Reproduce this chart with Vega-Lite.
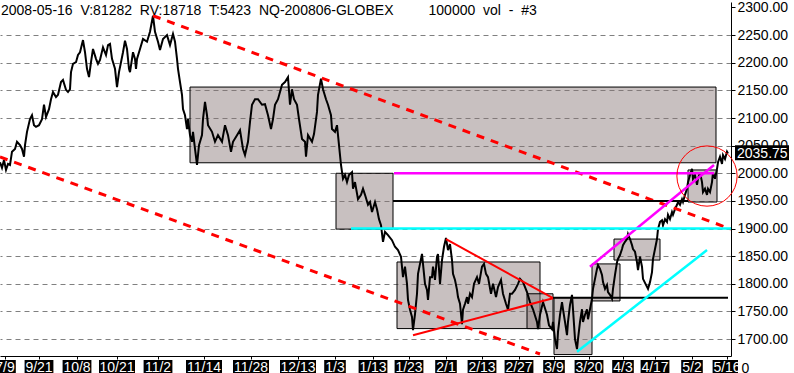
{
"$schema": "https://vega.github.io/schema/vega-lite/v6.json",
"padding": 0,
"background": "white",
"spacing": 0,
"config": {"view": {"stroke": null}, "font": "Liberation Sans", "text": {"font": "Liberation Sans"}},
"resolve": {"scale": {"x": "independent", "y": "independent"}},
"datasets": {
"price": [{"i":0,"p":2020},{"i":2,"p":2010},{"i":4,"p":2024},{"i":6,"p":2006},{"i":8,"p":2017},{"i":10,"p":2015},{"i":12,"p":2039},{"i":15,"p":2044},{"i":17,"p":2057},{"i":20,"p":2051},{"i":22,"p":2044},{"i":24,"p":2030},{"i":25,"p":2051},{"i":27,"p":2075},{"i":30,"p":2098},{"i":32,"p":2105},{"i":34,"p":2087},{"i":36,"p":2084},{"i":39,"p":2087},{"i":42,"p":2098},{"i":44,"p":2124},{"i":46,"p":2102},{"i":49,"p":2116},{"i":51,"p":2134},{"i":53,"p":2147},{"i":56,"p":2138},{"i":58,"p":2142},{"i":61,"p":2165},{"i":63,"p":2169},{"i":66,"p":2151},{"i":68,"p":2147},{"i":70,"p":2152},{"i":71,"p":2183},{"i":73,"p":2198},{"i":76,"p":2201},{"i":78,"p":2214},{"i":80,"p":2219},{"i":83,"p":2241},{"i":85,"p":2219},{"i":87,"p":2189},{"i":89,"p":2174},{"i":91,"p":2201},{"i":93,"p":2225},{"i":96,"p":2207},{"i":98,"p":2198},{"i":100,"p":2205},{"i":103,"p":2228},{"i":106,"p":2214},{"i":108,"p":2232},{"i":110,"p":2234},{"i":112,"p":2207},{"i":115,"p":2189},{"i":117,"p":2156},{"i":119,"p":2183},{"i":121,"p":2201},{"i":123,"p":2219},{"i":125,"p":2240},{"i":127,"p":2225},{"i":129,"p":2189},{"i":130,"p":2183},{"i":133,"p":2219},{"i":135,"p":2207},{"i":136,"p":2189},{"i":137,"p":2207},{"i":140,"p":2225},{"i":143,"p":2243},{"i":147,"p":2238},{"i":150,"p":2256},{"i":153,"p":2285},{"i":155,"p":2256},{"i":158,"p":2238},{"i":160,"p":2223},{"i":163,"p":2243},{"i":167,"p":2250},{"i":170,"p":2232},{"i":173,"p":2252},{"i":175,"p":2238},{"i":177,"p":2207},{"i":178,"p":2189},{"i":180,"p":2165},{"i":182,"p":2142},{"i":183,"p":2116},{"i":185,"p":2105},{"i":187,"p":2080},{"i":188,"p":2098},{"i":190,"p":2069},{"i":192,"p":2057},{"i":193,"p":2075},{"i":195,"p":2044},{"i":197,"p":2015},{"i":199,"p":2051},{"i":202,"p":2069},{"i":203,"p":2098},{"i":205,"p":2129},{"i":207,"p":2105},{"i":208,"p":2087},{"i":212,"p":2075},{"i":215,"p":2057},{"i":218,"p":2069},{"i":222,"p":2057},{"i":225,"p":2087},{"i":228,"p":2069},{"i":231,"p":2039},{"i":233,"p":2057},{"i":237,"p":2069},{"i":240,"p":2078},{"i":243,"p":2044},{"i":245,"p":2033},{"i":248,"p":2057},{"i":250,"p":2093},{"i":252,"p":2124},{"i":255,"p":2134},{"i":258,"p":2134},{"i":262,"p":2124},{"i":265,"p":2125},{"i":268,"p":2105},{"i":271,"p":2080},{"i":273,"p":2098},{"i":275,"p":2124},{"i":278,"p":2134},{"i":282,"p":2160},{"i":285,"p":2165},{"i":288,"p":2174},{"i":290,"p":2124},{"i":292,"p":2152},{"i":294,"p":2134},{"i":297,"p":2124},{"i":299,"p":2098},{"i":302,"p":2062},{"i":305,"p":2057},{"i":306,"p":2030},{"i":308,"p":2069},{"i":312,"p":2057},{"i":314,"p":2071},{"i":317,"p":2111},{"i":318,"p":2142},{"i":321,"p":2171},{"i":323,"p":2152},{"i":326,"p":2134},{"i":328,"p":2124},{"i":331,"p":2105},{"i":332,"p":2080},{"i":335,"p":2075},{"i":337,"p":2087},{"i":338,"p":2069},{"i":340,"p":2033},{"i":341,"p":2015},{"i":343,"p":1990},{"i":345,"p":1997},{"i":347,"p":1984},{"i":349,"p":1997},{"i":352,"p":2002},{"i":353,"p":1972},{"i":355,"p":1984},{"i":358,"p":1953},{"i":361,"p":1961},{"i":363,"p":1972},{"i":365,"p":1961},{"i":368,"p":1943},{"i":370,"p":1948},{"i":372,"p":1930},{"i":375,"p":1948},{"i":377,"p":1935},{"i":379,"p":1917},{"i":381,"p":1906},{"i":383,"p":1876},{"i":385,"p":1894},{"i":388,"p":1888},{"i":392,"p":1879},{"i":395,"p":1867},{"i":398,"p":1861},{"i":401,"p":1849},{"i":403,"p":1812},{"i":405,"p":1831},{"i":407,"p":1800},{"i":408,"p":1771},{"i":410,"p":1753},{"i":412,"p":1740},{"i":413,"p":1716},{"i":415,"p":1745},{"i":417,"p":1782},{"i":418,"p":1818},{"i":420,"p":1836},{"i":422,"p":1854},{"i":423,"p":1836},{"i":425,"p":1800},{"i":427,"p":1789},{"i":428,"p":1771},{"i":430,"p":1812},{"i":432,"p":1812},{"i":433,"p":1831},{"i":435,"p":1807},{"i":437,"p":1849},{"i":438,"p":1854},{"i":440,"p":1800},{"i":442,"p":1843},{"i":444,"p":1867},{"i":446,"p":1883},{"i":448,"p":1861},{"i":450,"p":1872},{"i":452,"p":1843},{"i":453,"p":1818},{"i":455,"p":1807},{"i":457,"p":1789},{"i":458,"p":1776},{"i":460,"p":1764},{"i":462,"p":1727},{"i":463,"p":1753},{"i":465,"p":1764},{"i":467,"p":1776},{"i":468,"p":1764},{"i":470,"p":1782},{"i":472,"p":1776},{"i":474,"p":1800},{"i":477,"p":1812},{"i":479,"p":1800},{"i":482,"p":1831},{"i":484,"p":1836},{"i":486,"p":1818},{"i":488,"p":1812},{"i":491,"p":1782},{"i":493,"p":1800},{"i":496,"p":1776},{"i":498,"p":1794},{"i":501,"p":1807},{"i":503,"p":1782},{"i":506,"p":1764},{"i":508,"p":1753},{"i":510,"p":1782},{"i":512,"p":1782},{"i":515,"p":1789},{"i":518,"p":1800},{"i":520,"p":1809},{"i":523,"p":1803},{"i":527,"p":1785},{"i":530,"p":1767},{"i":533,"p":1754},{"i":537,"p":1731},{"i":538,"p":1718},{"i":540,"p":1744},{"i":543,"p":1767},{"i":547,"p":1744},{"i":549,"p":1725},{"i":552,"p":1718},{"i":553,"p":1731},{"i":555,"p":1700},{"i":557,"p":1682},{"i":558,"p":1713},{"i":560,"p":1744},{"i":562,"p":1767},{"i":563,"p":1754},{"i":565,"p":1731},{"i":567,"p":1707},{"i":568,"p":1731},{"i":570,"p":1762},{"i":572,"p":1780},{"i":573,"p":1754},{"i":575,"p":1700},{"i":577,"p":1682},{"i":578,"p":1700},{"i":580,"p":1731},{"i":582,"p":1754},{"i":583,"p":1731},{"i":585,"p":1744},{"i":587,"p":1754},{"i":588,"p":1736},{"i":590,"p":1754},{"i":592,"p":1773},{"i":593,"p":1791},{"i":595,"p":1809},{"i":597,"p":1827},{"i":598,"p":1834},{"i":600,"p":1827},{"i":602,"p":1816},{"i":603,"p":1803},{"i":605,"p":1791},{"i":607,"p":1798},{"i":608,"p":1785},{"i":610,"p":1780},{"i":612,"p":1773},{"i":613,"p":1791},{"i":615,"p":1816},{"i":617,"p":1839},{"i":618,"p":1845},{"i":620,"p":1852},{"i":622,"p":1863},{"i":623,"p":1870},{"i":625,"p":1876},{"i":627,"p":1881},{"i":628,"p":1890},{"i":630,"p":1881},{"i":632,"p":1870},{"i":633,"p":1863},{"i":635,"p":1858},{"i":637,"p":1839},{"i":638,"p":1825},{"i":640,"p":1849},{"i":642,"p":1831},{"i":643,"p":1809},{"i":646,"p":1798},{"i":648,"p":1791},{"i":650,"p":1803},{"i":652,"p":1821},{"i":653,"p":1845},{"i":655,"p":1863},{"i":657,"p":1881},{"i":658,"p":1899},{"i":660,"p":1912},{"i":662,"p":1915},{"i":663,"p":1906},{"i":665,"p":1917},{"i":667,"p":1912},{"i":668,"p":1925},{"i":670,"p":1917},{"i":672,"p":1930},{"i":673,"p":1925},{"i":675,"p":1935},{"i":677,"p":1943},{"i":678,"p":1948},{"i":680,"p":1943},{"i":682,"p":1953},{"i":683,"p":1948},{"i":685,"p":1961},{"i":687,"p":1972},{"i":688,"p":1984},{"i":690,"p":1997},{"i":692,"p":2008},{"i":693,"p":1990},{"i":695,"p":1997},{"i":697,"p":1979},{"i":698,"p":1990},{"i":700,"p":2002},{"i":702,"p":1984},{"i":703,"p":1966},{"i":705,"p":1972},{"i":707,"p":1961},{"i":708,"p":1972},{"i":710,"p":1966},{"i":712,"p":1984},{"i":713,"p":2002},{"i":715,"p":1990},{"i":717,"p":2008},{"i":718,"p":2020},{"i":720,"p":2030},{"i":722,"p":2017},{"i":723,"p":2033},{"i":725,"p":2026},{"i":727,"p":2039},{"i":728,"p":2035.75}],
"boxes": [{"i":190,"i2":716,"p":2156,"p2":2019},{"i":336,"i2":393,"p":2000,"p2":1899},{"i":397,"i2":540,"p":1839.5,"p2":1719},{"i":527,"i2":553,"p":1782,"p2":1719},{"i":554,"i2":592,"p":1775,"p2":1672},{"i":592,"i2":620,"p":1836,"p2":1769},{"i":614,"i2":660,"p":1881,"p2":1843},{"i":688,"i2":717,"p":2006,"p2":1948}],
"reddash": [{"i":153,"p":2285,"i2":731,"p2":1899},{"i":0,"p":2029.5,"i2":540,"p2":1673}],
"redtri": [{"i":446,"p":1881,"i2":553,"p2":1774},{"i":413,"p":1707,"i2":553,"p2":1774}],
"magenta": [{"i":394,"p":2000,"i2":714,"p2":2000},{"i":590,"p":1831,"i2":714,"p2":2015}],
"cyan": [{"i":351,"p":1900,"i2":731,"p2":1900},{"i":577,"p":1677,"i2":707,"p2":1861}],
"blacklines": [{"i":393,"p":1950,"i2":688,"p2":1950},{"i":553,"p":1775,"i2":728,"p2":1775}],
"circle": [{"i":707,"p":1995}],
"lastbox": [{"i":735,"i2":789,"p":2050.5,"p2":2023.5}],
"lasttext": [{"i":737,"p":2035.75,"label":"2035.75"}],
"title": [{"i":1,"p":2294.5,"label":"2008-05-16\u00a0\u00a0V:81282\u00a0\u00a0RV:18718\u00a0\u00a0T:5423\u00a0\u00a0NQ-200806-GLOBEX\u00a0\u00a0\u00a0\u00a0\u00a0\u00a0\u00a0\u00a0\u00a0100000\u00a0\u00a0vol\u00a0\u00a0-\u00a0\u00a0#3"}],
"ticks": [{"i":5,"label":"7/9"},{"i":39,"label":"9/21"},{"i":77,"label":"10/8"},{"i":117,"label":"10/21"},{"i":158,"label":"11/2"},{"i":204,"label":"11/14"},{"i":251,"label":"11/28"},{"i":298,"label":"12/13"},{"i":335,"label":"1/3"},{"i":373,"label":"1/13"},{"i":409,"label":"1/23"},{"i":446,"label":"2/1"},{"i":482,"label":"2/13"},{"i":519,"label":"2/27"},{"i":554,"label":"3/9"},{"i":589,"label":"3/20"},{"i":623,"label":"4/3"},{"i":655,"label":"4/17"},{"i":692,"label":"5/2"},{"i":727,"label":"5/16"}]
},
"vconcat": [
{
"width": 731,
"height": 354,
"encoding": {
"x": {"field": "i", "type": "quantitative", "scale": {"domain": [0, 731], "nice": false, "zero": false},
"axis": {"orient": "bottom", "values": [5,39,77,117,158,204,251,298,335,373,409,446,482,519,554,589,623,655,692,727], "labels": false, "tickSize": 3, "tickColor": "black", "domainColor": "black", "grid": false, "title": null, "zindex": 0}},
"y": {"field": "p", "type": "quantitative", "scale": {"domain": [1669.4, 2309.9], "nice": false, "zero": false},
"axis": {"orient": "right", "values": [1700,1750,1800,1850,1900,1950,2000,2050,2100,2150,2200,2250,2300], "format": ".2f", "labelFont": "Liberation Sans", "labelFontSize": 14, "labelColor": "black", "labelPadding": 2, "labelOverlap": false, "labelFlush": false, "tickSize": 4, "tickColor": "black", "domainColor": "black", "title": null, "grid": true, "gridColor": "#808080", "gridDash": [5, 4], "gridOpacity": {"condition": {"test": "datum.value >= 2300", "value": 0}, "value": 1}, "zindex": 0}}
},
"layer": [
{"data": {"name": "boxes"}, "mark": {"type": "rect", "fill": "#857373", "fillOpacity": 0.45, "stroke": "black", "strokeWidth": 1}, "encoding": {"x2": {"field": "i2"}, "y2": {"field": "p2"}}},
{"data": {"name": "price"}, "mark": {"type": "line", "color": "black", "strokeWidth": 2, "clip": true}, "encoding": {}},
{"data": {"name": "reddash"}, "mark": {"type": "rule", "color": "#ff0000", "strokeWidth": 3, "strokeDash": [8, 7], "clip": true}, "encoding": {"x2": {"field": "i2"}, "y2": {"field": "p2"}}},
{"data": {"name": "redtri"}, "mark": {"type": "rule", "color": "#ff0000", "strokeWidth": 2, "clip": true}, "encoding": {"x2": {"field": "i2"}, "y2": {"field": "p2"}}},
{"data": {"name": "blacklines"}, "mark": {"type": "rule", "color": "black", "strokeWidth": 2, "clip": true}, "encoding": {"x2": {"field": "i2"}, "y2": {"field": "p2"}}},
{"data": {"name": "magenta"}, "mark": {"type": "rule", "color": "#ff00ff", "strokeWidth": 2.5, "clip": true}, "encoding": {"x2": {"field": "i2"}, "y2": {"field": "p2"}}},
{"data": {"name": "cyan"}, "mark": {"type": "rule", "color": "#00ffff", "strokeWidth": 2.5, "clip": true}, "encoding": {"x2": {"field": "i2"}, "y2": {"field": "p2"}}},
{"data": {"name": "circle"}, "mark": {"type": "point", "shape": "circle", "size": 3630, "filled": false, "stroke": "#ff0000", "strokeWidth": 1, "opacity": 1}},
{"data": {"name": "lastbox"}, "mark": {"type": "rect", "color": "black"}, "encoding": {"x2": {"field": "i2"}, "y2": {"field": "p2"}}},
{"data": {"name": "lasttext"}, "mark": {"type": "text", "color": "white", "fontSize": 14, "align": "left", "baseline": "middle"}, "encoding": {"text": {"field": "label"}}},
{"data": {"name": "title"}, "mark": {"type": "text", "color": "black", "fontSize": 14, "align": "left", "baseline": "middle"}, "encoding": {"text": {"field": "label"}}}
]
},
{
"width": 738,
"height": 16,
"data": {"name": "ticks"},
"transform": [{"calculate": "length(datum.label) * 7.2", "as": "w"}, {"calculate": "datum.i - datum.w / 2", "as": "a"}, {"calculate": "datum.i + datum.w / 2", "as": "b"}],
"layer": [
{"mark": {"type": "rect", "color": "black", "clip": true}, "encoding": {"x": {"field": "a", "type": "quantitative", "scale": {"domain": [0, 738], "nice": false, "zero": false}, "axis": null}, "x2": {"field": "b"}}},
{"mark": {"type": "text", "color": "white", "fontSize": 14, "baseline": "middle", "clip": true}, "encoding": {"x": {"field": "i", "type": "quantitative", "scale": {"domain": [0, 738], "nice": false, "zero": false}, "axis": null}, "y": {"datum": 0.5, "type": "quantitative", "scale": {"domain": [0, 1], "nice": false, "zero": false}, "axis": {"orient": "right", "values": [0.5], "labelExpr": "'0'", "ticks": false, "domain": false, "grid": false, "title": null, "labelPadding": 3, "labelFontSize": 14, "labelColor": "black", "labelFont": "Liberation Sans"}}, "text": {"field": "label"}}}
]
}
]
}
